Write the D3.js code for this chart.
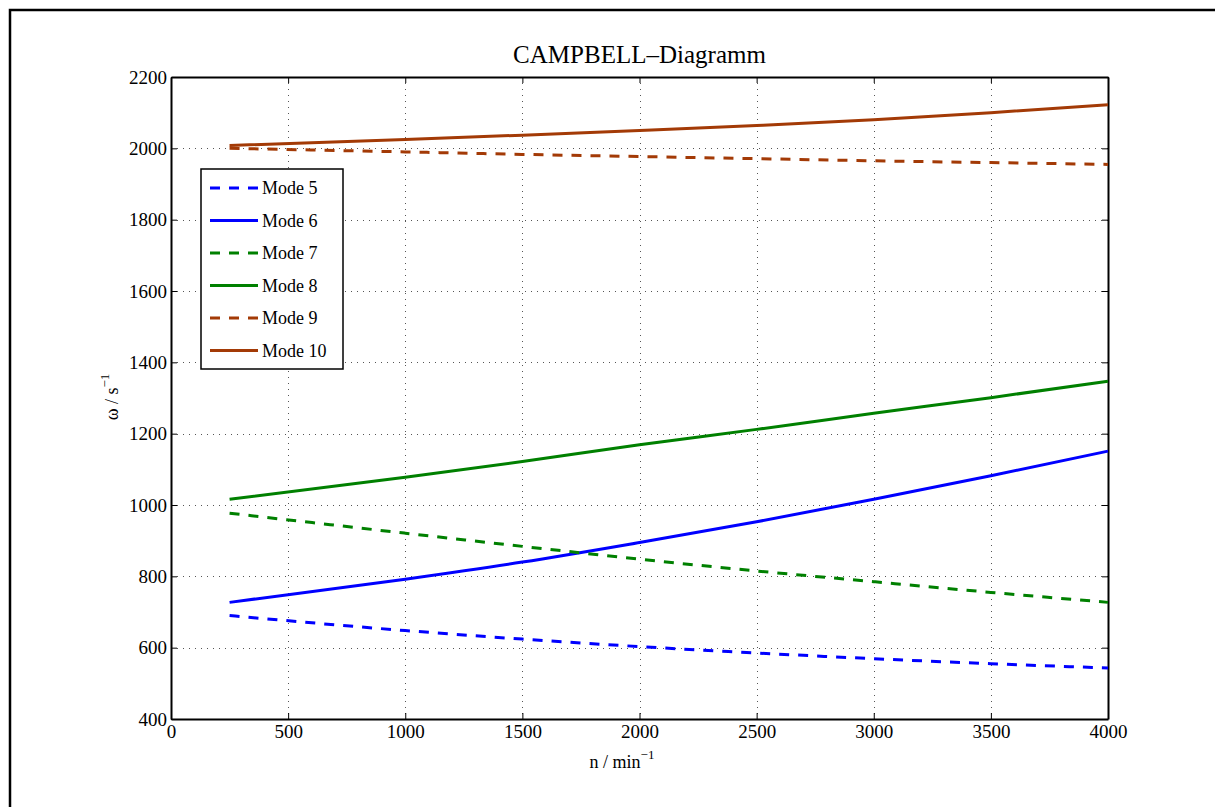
<!DOCTYPE html>
<html>
<head>
<meta charset="utf-8">
<script src="https://cdn.jsdelivr.net/npm/d3@7"></script>
<style>
body { margin: 0; background: #fff; }
text { font-family: "Liberation Serif", "Times New Roman", serif; fill: #000; }
</style>
</head>
<body>
<script>
// speeds n (1/min) where the curves were read
var speeds = [250, 1000, 1500, 2000, 2500, 3000, 3500, 4000];

// natural frequencies omega (1/s)
var mode5 = [690, 648, 624, 603, 585, 569, 555, 543];
var mode6 = [727, 792, 840, 895, 953, 1016, 1082, 1151];
var mode7 = [977, 921, 884, 848, 815, 785, 755, 727];
var mode8 = [1016, 1078, 1122, 1169, 1212, 1257, 1301, 1347];
var mode9 = [2000, 1990, 1983, 1977, 1971, 1965, 1960, 1955];
var mode10 = [2008, 2025, 2037, 2050, 2064, 2080, 2100, 2122];

var seriesNames = ["Mode 5", "Mode 6", "Mode 7", "Mode 8", "Mode 9", "Mode 10"];
var seriesData = [mode5, mode6, mode7, mode8, mode9, mode10];
var seriesColors = ["#0000ff", "#0000ff", "#008000", "#008000", "#a33a06", "#a33a06"];
var seriesDashed = [true, false, true, false, true, false];

var xTicks = [0, 500, 1000, 1500, 2000, 2500, 3000, 3500, 4000];
var yTicks = [400, 600, 800, 1000, 1200, 1400, 1600, 1800, 2000, 2200];

var width = 1215, height = 807;
var pLeft = 171, pTop = 77, pRight = 1108, pBottom = 719;

var svg = d3.select("body").append("svg")
	.attr("width", width)
	.attr("height", height);

// outer frame (only top and left edges show in the picture)
svg.append("path")
	.attr("d", "M10,807 L10,10 L1215,10")
	.attr("fill", "none")
	.attr("stroke", "#000")
	.attr("stroke-width", 2.5);

var x = d3.scaleLinear().domain([0, 4000]).range([pLeft, pRight]);
var y = d3.scaleLinear().domain([400, 2200]).range([pBottom, pTop]);

// grid
var grid = svg.append("g").attr("stroke", "#555").attr("stroke-width", 1).attr("stroke-dasharray", "1,5");
grid.selectAll(".gx").data(xTicks.slice(1, -1)).enter().append("line")
	.attr("x1", function(d) { return Math.round(x(d)) + 0.5; })
	.attr("x2", function(d) { return Math.round(x(d)) + 0.5; })
	.attr("y1", pTop).attr("y2", pBottom);
grid.selectAll(".gy").data(yTicks.slice(1, -1)).enter().append("line")
	.attr("y1", function(d) { return Math.round(y(d)) + 0.5; })
	.attr("y2", function(d) { return Math.round(y(d)) + 0.5; })
	.attr("x1", pLeft).attr("x2", pRight);

// axes with inward ticks on all four sides
var fs = "19px", fmt = d3.format("d");
var axB = svg.append("g").attr("transform", "translate(0," + pBottom + ")")
	.call(d3.axisBottom(x).tickValues(xTicks).tickFormat(fmt).tickSizeInner(-6).tickSizeOuter(0).tickPadding(6));
var axT = svg.append("g").attr("transform", "translate(0," + pTop + ")")
	.call(d3.axisTop(x).tickValues(xTicks).tickSizeInner(-6).tickSizeOuter(0).tickFormat(""));
var axL = svg.append("g").attr("transform", "translate(" + pLeft + ",0)")
	.call(d3.axisLeft(y).tickValues(yTicks).tickFormat(fmt).tickSizeInner(-6).tickSizeOuter(0).tickPadding(4));
var axR = svg.append("g").attr("transform", "translate(" + pRight + ",0)")
	.call(d3.axisRight(y).tickValues(yTicks).tickSizeInner(-6).tickSizeOuter(0).tickFormat(""));
[axB, axT, axL, axR].forEach(function(a) {
	a.selectAll("path").attr("stroke", "#000").attr("stroke-width", 2);
	a.selectAll("line").attr("stroke", "#000").attr("stroke-width", 1);
	a.selectAll("text").style("font-family", "Liberation Serif").style("font-size", fs).attr("fill", "#000");
});
axB.selectAll("text").attr("dy", "0.71em");

// curves
var line = d3.line()
	.x(function(d, i) { return x(speeds[i]); })
	.y(function(d) { return y(d); })
	.curve(d3.curveMonotoneX);

svg.append("g").selectAll("path").data(seriesData).enter().append("path")
	.attr("d", line)
	.attr("fill", "none")
	.attr("stroke", function(d, i) { return seriesColors[i]; })
	.attr("stroke-width", 3)
	.attr("stroke-dasharray", function(d, i) { return seriesDashed[i] ? "10,9" : null; });

// title + labels
svg.append("text").attr("x", (pLeft + pRight) / 2).attr("y", 63)
	.attr("text-anchor", "middle").style("font-size", "25px").text("CAMPBELL\u2013Diagramm");

var xl = svg.append("text").attr("x", 622).attr("y", 768).attr("text-anchor", "middle").style("font-size", "18px");
xl.append("tspan").text("n / min");
xl.append("tspan").attr("dy", -9).style("font-size", "13px").text("\u22121");

var yl = svg.append("text").attr("transform", "translate(118,397) rotate(-90)")
	.attr("text-anchor", "middle").style("font-size", "18px");
yl.append("tspan").text("\u03c9 / s");
yl.append("tspan").attr("dy", -9).style("font-size", "13px").text("\u22121");

// legend
var lg = svg.append("g").attr("transform", "translate(201,169)");
lg.append("rect").attr("width", 142).attr("height", 200)
	.attr("fill", "#fff").attr("stroke", "#000").attr("stroke-width", 1.5);
var rows = lg.selectAll(".row").data(seriesNames).enter().append("g")
	.attr("transform", function(d, i) { return "translate(0," + (19 + i * 32.5) + ")"; });
rows.append("line").attr("x1", 9).attr("x2", 57)
	.attr("stroke", function(d, i) { return seriesColors[i]; })
	.attr("stroke-width", 3)
	.attr("stroke-dasharray", function(d, i) { return seriesDashed[i] ? "10,9" : null; });
rows.append("text").attr("x", 61).attr("dy", "0.35em").style("font-size", "18px").text(function(d) { return d; });
</script>
</body>
</html>
